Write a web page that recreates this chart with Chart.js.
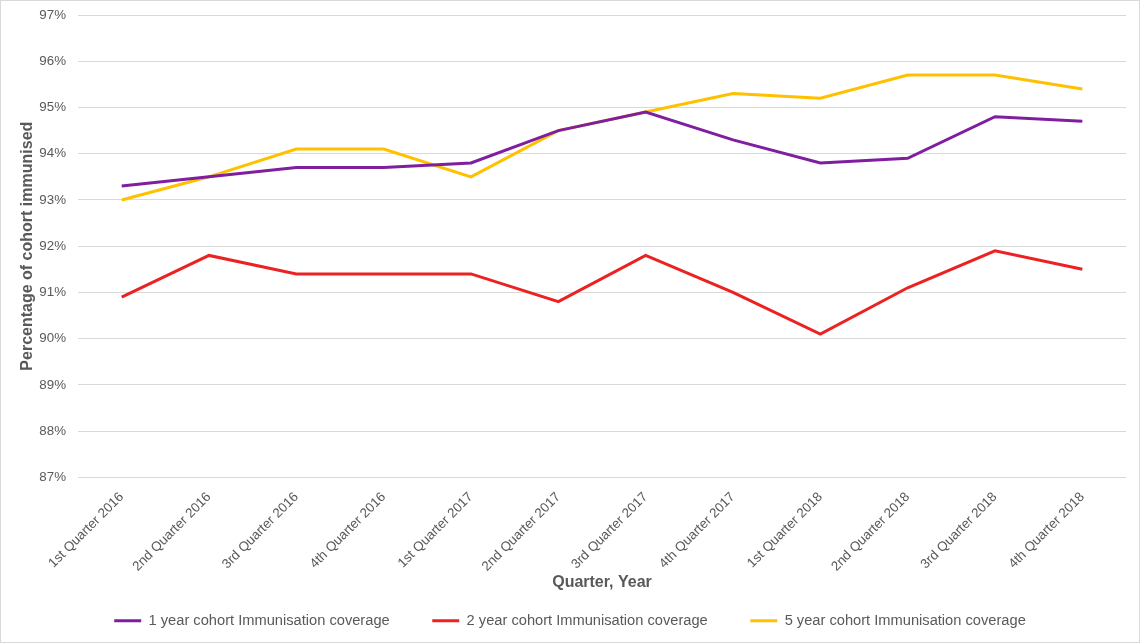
<!DOCTYPE html>
<html>
<head>
<meta charset="utf-8">
<script src="https://cdn.jsdelivr.net/npm/chart.js@4"></script>
<style>
html,body{margin:0;padding:0;background:#fff;}
#wrap{width:1140px;height:643px;position:relative;}
</style>
</head>
<body>
<div id="wrap"><canvas id="c"></canvas></div>
<script>
const categories = ["1st Quarter 2016","2nd Quarter 2016","3rd Quarter 2016","4th Quarter 2016","1st Quarter 2017","2nd Quarter 2017","3rd Quarter 2017","4th Quarter 2017","1st Quarter 2018","2nd Quarter 2018","3rd Quarter 2018","4th Quarter 2018"];
const oneYear = [93.3, 93.5, 93.7, 93.7, 93.8, 94.5, 94.9, 94.3, 93.8, 93.9, 94.8, 94.7];
const twoYear = [90.9, 91.8, 91.4, 91.4, 91.4, 90.8, 91.8, 91.0, 90.1, 91.1, 91.9, 91.5];
const fiveYear = [93.0, 93.5, 94.1, 94.1, 93.5, 94.5, 94.9, 95.3, 95.2, 95.7, 95.7, 95.4];
const seriesLabels = ["1 year cohort Immunisation coverage","2 year cohort Immunisation coverage","5 year cohort Immunisation coverage"];
const yMin = 87, yMax = 97, yStep = 1;

const FONT = "'Liberation Sans', Arial, sans-serif";
const GREY = '#595959';

const bgBorder = {
  id: 'bgBorder',
  beforeDraw(chart){
    const ctx = chart.ctx;
    ctx.save();
    ctx.fillStyle = '#fff';
    ctx.fillRect(0,0,chart.width,chart.height);
    ctx.restore();
  },
  afterDraw(chart){
    const ctx = chart.ctx;
    ctx.save();
    ctx.strokeStyle = '#d9d9d9';
    ctx.lineWidth = 1;
    ctx.strokeRect(0.5,0.5,chart.width-1,chart.height-1);
    ctx.restore();
  }
};

function ds(label, data, color){
  return {label, data, borderColor: color, backgroundColor: color, borderWidth: 3,
    pointRadius: 0, pointHoverRadius: 0, tension: 0, fill: false};
}

new Chart(document.getElementById('c'), {
  type: 'line',
  data: {
    labels: categories,
    datasets: [
      ds(seriesLabels[0], oneYear, '#7F1F9F'),
      ds(seriesLabels[1], twoYear, '#EC2222'),
      ds(seriesLabels[2], fiveYear, '#FFC000')
    ]
  },
  options: {
    responsive: true,
    maintainAspectRatio: false,
    animation: false,
    layout: { padding: { top: 15, right: 0, bottom: 5, left: 0 } },
    plugins: {
      tooltip: { enabled: false },
      legend: {
        position: 'bottom',
        labels: {
          font: { family: FONT, size: 14.67 },
          color: GREY,
          boxWidth: 27,
          boxHeight: 3,
          padding: 10,
          generateLabels(chart){
            const items = Chart.defaults.plugins.legend.labels.generateLabels(chart);
            items.forEach((it, i) => {
              if (i < items.length - 1) it.text = it.text + '        ';
              it.lineWidth = 0;
            });
            return items;
          }
        }
      }
    },
    scales: {
      x: {
        offset: true,
        grid: { display: false },
        border: { display: false },
        ticks: { font: { family: FONT, size: 13.33 }, color: GREY, maxRotation: 45, minRotation: 45, padding: 4, autoSkip: false },
        title: { display: true, text: 'Quarter, Year', color: GREY, font: { family: FONT, size: 16, weight: 'bold' }, padding: { top: 0, bottom: 11 } },
        afterFit(scale){ scale.height = 126; scale.paddingRight = 14; }
      },
      y: {
        min: yMin, max: yMax,
        grid: { color: '#d9d9d9', lineWidth: 1, drawTicks: false },
        border: { display: false },
        ticks: { stepSize: yStep, font: { family: FONT, size: 13.33 }, color: GREY, padding: 12, callback: v => v + '%' },
        title: { display: true, text: 'Percentage of cohort immunised', color: GREY, font: { family: FONT, size: 16, weight: 'bold' }, padding: { top: 18, bottom: 0 } },
        afterFit(scale){ scale.width = 78; scale.paddingTop = 0; }
      }
    }
  },
  plugins: [bgBorder]
});
</script>
</body>
</html>
